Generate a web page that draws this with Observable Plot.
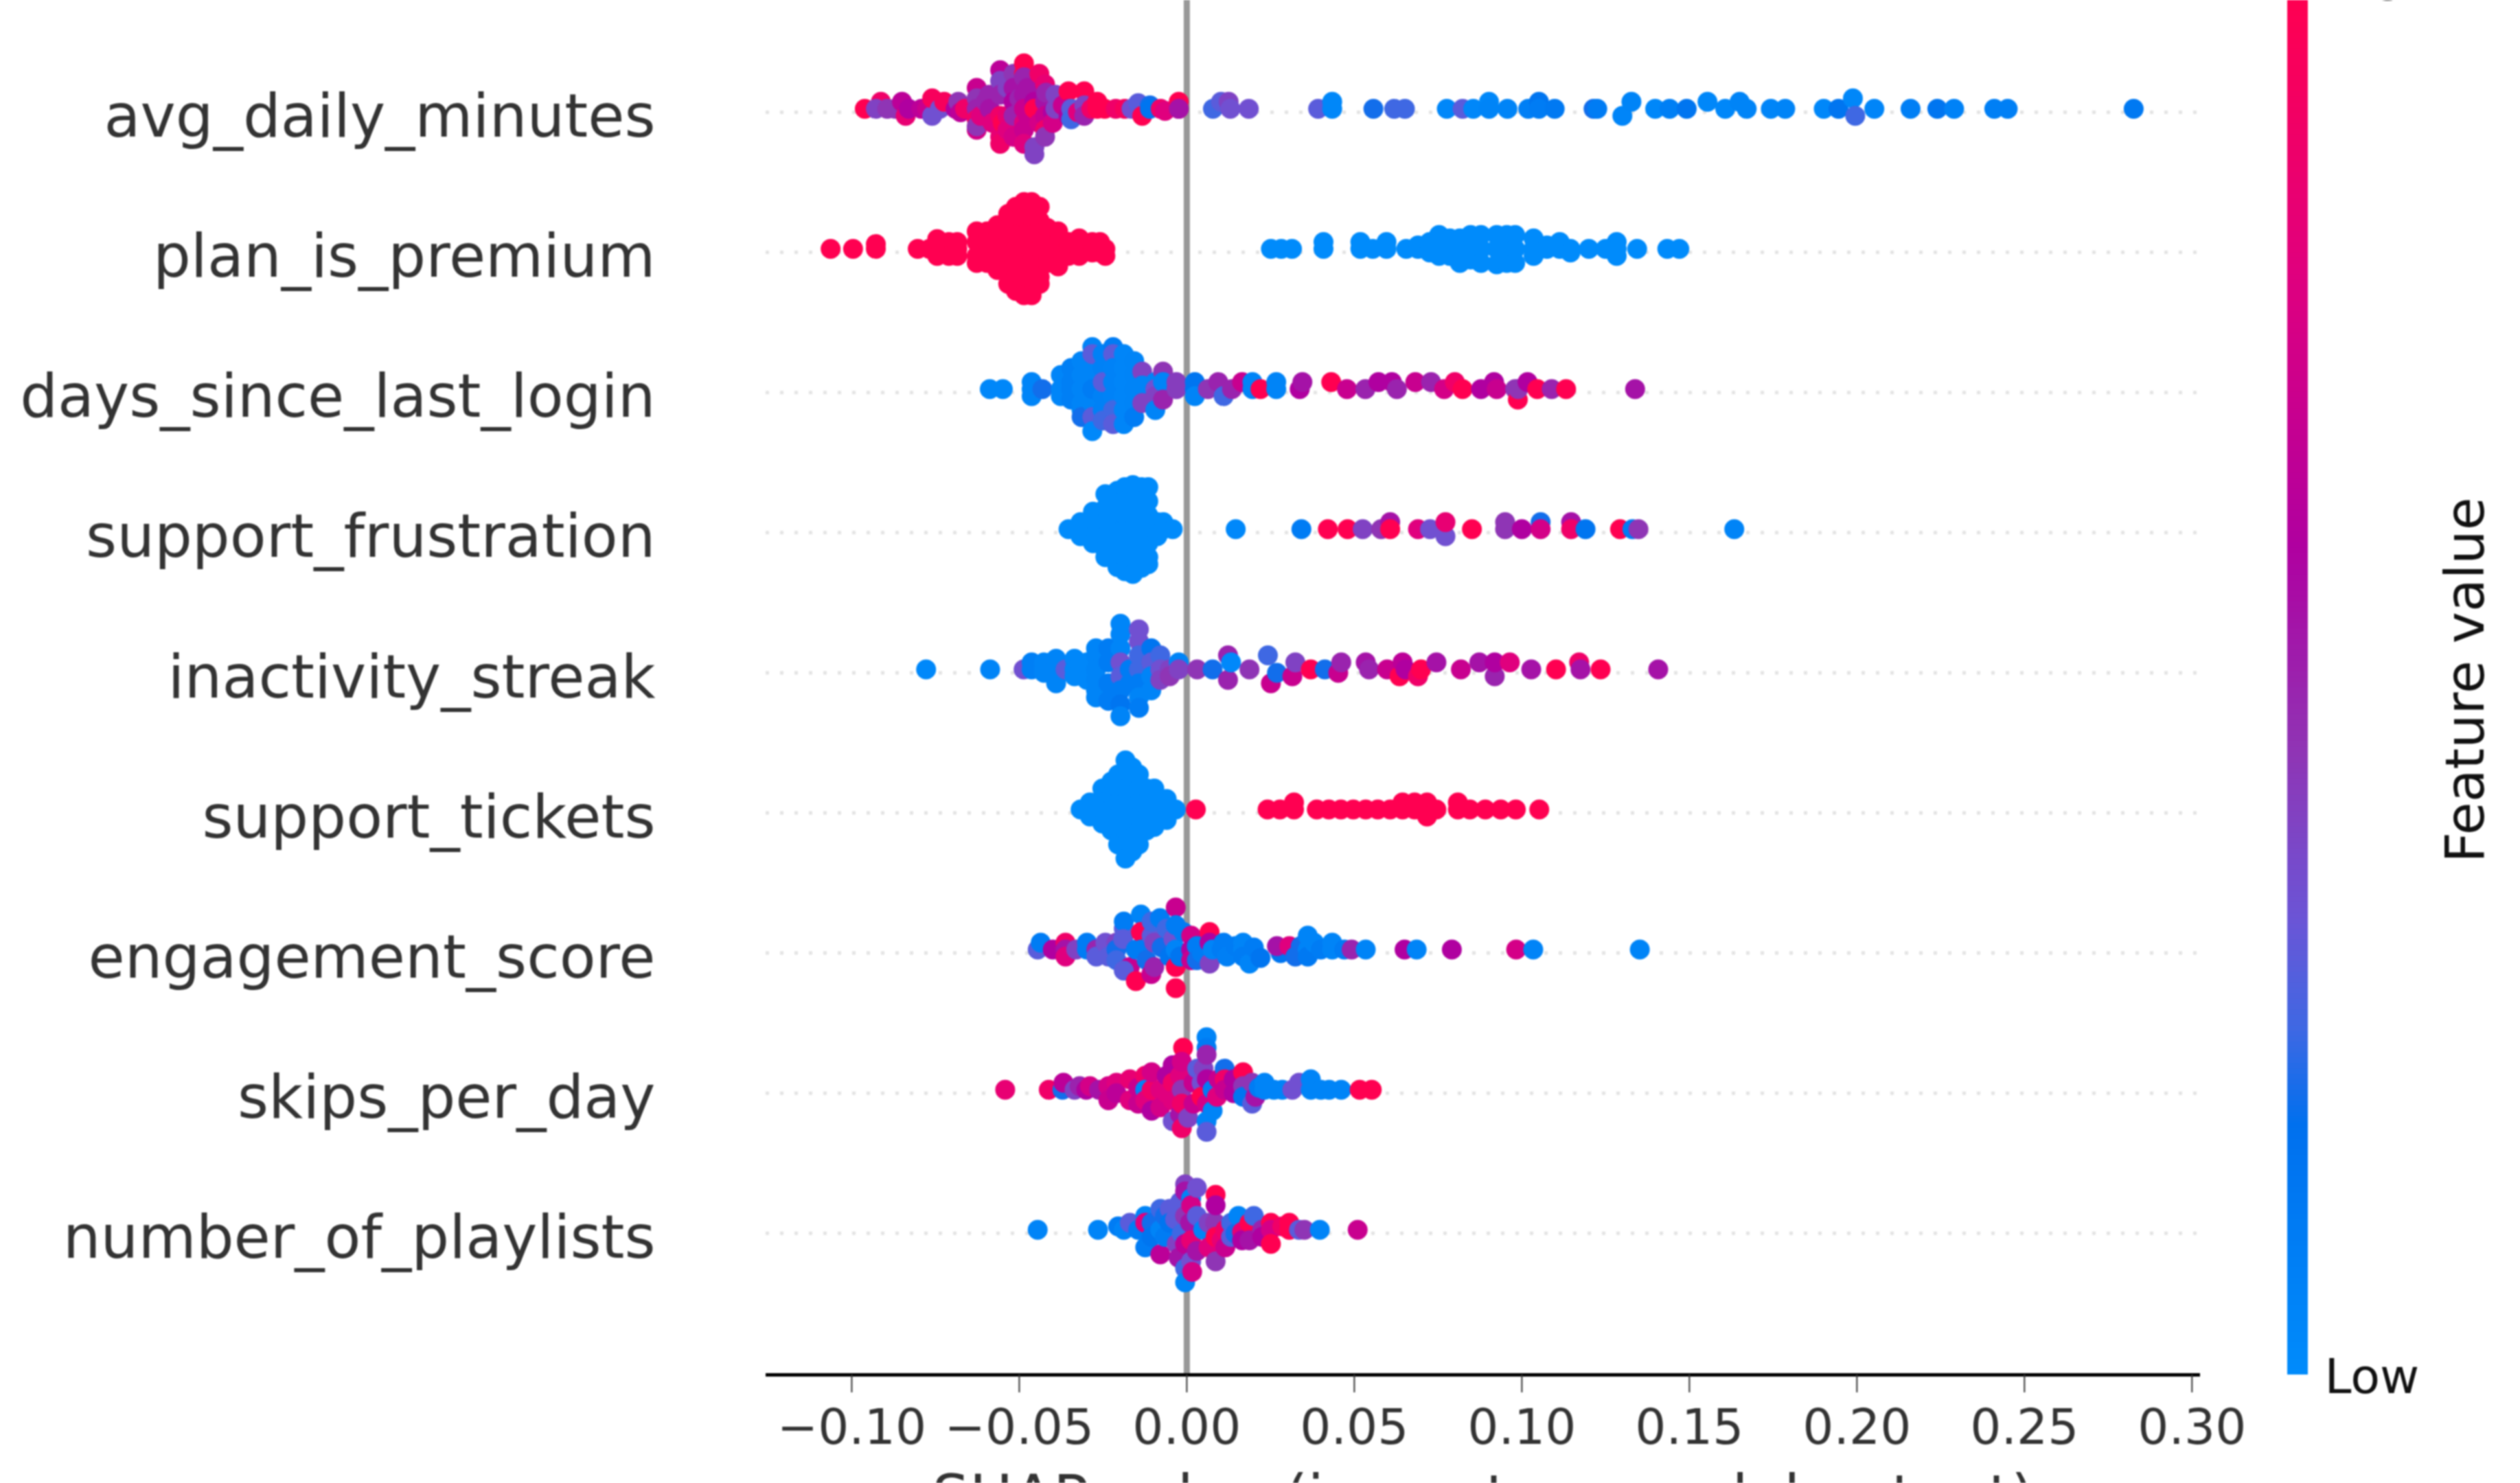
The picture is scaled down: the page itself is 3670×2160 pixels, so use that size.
<!DOCTYPE html>
<html>
<head>
<meta charset="utf-8">
<script src="https://cdn.jsdelivr.net/npm/d3@7"></script>
<script src="https://cdn.jsdelivr.net/npm/@observablehq/plot@0.6"></script>
<style>
html,body{margin:0;padding:0;background:#fff;}
#stage{position:relative;width:3670px;height:2160px;overflow:hidden;background:#fff;}
#stage svg{position:absolute;top:0;filter:blur(0.9px);max-width:none;}
</style>
</head>
<body>
<div id="stage"></div>
<script>
const features = ["avg_daily_minutes","plan_is_premium","days_since_last_login","support_frustration","inactivity_streak","support_tickets","engagement_score","skips_per_day","number_of_playlists"];
const xTicks = [-0.10,-0.05,0,0.05,0.10,0.15,0.20,0.25,0.30];
const colorStops = [0,0.18,0.25,0.33,0.45,0.6,0.8,1];
const colorValues = ["#008bfb","#0070ee","#3f68e3","#6b55d6","#8f35b5","#b000a0","#e0007e","#ff0051"];

// each entry: [SHAP value, stack layer (or layers), feature value 0..1]
const avgDailyMinutes = [
[-.0961,0,1],[-.0913,1,.9],[-.0928,0,.4],[-.0894,0,.45],[-.087,0,.45],[-.085,1,.65],[-.0839,-1,.85],[-.083,0,.6],[-.0792,0,.65],[-.0775,0,.7],[-.076,-1,.35],[-.076,1.5,.95],[-.0737,0,.35],[-.0724,1,.95],[-.069,0,.6],[-.0682,1,.45],[-.0675,-.5,.65],[-.0662,0,.9],
[-.0627,3,.7],[-.0627,1.5,.45],[-.0627,0,.5],[-.0627,-1.5,.9],[-.0627,-3,.75],[-.0627,-2.5,.45],[-.0615,-1,.8],[-.06,1,.5],[-.059,2,.5],[-.0588,0,.55],[-.058,-2,.8],
[-.0557,5.5,.65],[-.0557,4,.4],[-.0557,2,.5],[-.0557,-1,.9],[-.0557,-4,.85],[-.0557,-5,.9],[-.0549,-2,1],[-.0535,3,.4],[-.0535,-1,.85],[-.0535,-3,.8],
[-.0517,5,.45],[-.0517,3,.55],[-.0517,1,.6],[-.0517,-1,.5],[-.0517,-4,.75],[-.05,1.5,.5],[-.05,-.5,.5],
[-.0486,6.5,1],[-.0486,5,1],[-.0486,4.5,.5],[-.0486,2,.55],[-.0486,0,.7],[-.0486,-2,.8],[-.0486,-3,.7],[-.0486,-5,.8],[-.0475,3,.55],[-.0475,-1,.7],
[-.0455,-6.5,.4],[-.0455,-5.5,.4],[-.0455,1,.6],[-.0455,0,1],[-.044,-2,.75],[-.044,5,.9],
[-.0423,3.5,.85],[-.0423,1,.55],[-.0423,-1,.7],[-.0423,-3,.9],[-.0423,-4,.45],[-.042,2.3,.5],[-.04,-.5,.6],[-.04,-2,.75],
[-.0392,2,.4],[-.0392,0,.4],[-.037,.5,.7],[-.0353,2.5,1],[-.0353,0,.7],[-.0353,-1,.6],[-.0345,0,.3],[-.0345,-1.5,.25],[-.0325,-.5,.8],
[-.0306,2.5,1],[-.0306,.5,.4],[-.0306,-1,.5],[-.0285,0,.9],[-.0267,1,1],[-.0267,0,1],[-.0245,0,1],[-.0212,0,.9],[-.0185,0,.95],[-.0165,0,.35],[-.0145,.8,.3],[-.0133,-1,1],[-.011,.5,.2],[-.011,0,.15],[-.0078,0,.9],[-.0065,-.3,.8],[-.0024,0,1],[-.0024,1,1],[-.0024,0,.55],
[.0078,0,.25],[.0102,1,.3],[.0125,1,.4],[.013,0,.35],[.0185,0,.35],[.0392,0,.3],[.0434,0,.03],[.0434,1,.03],[.0557,0,.2],[.0619,0,.25],[.0651,0,.25],
[.0776,0,.03],[.0823,0,.3],[.0855,0,.03],[.0902,1,.03],[.0902,0,.05],[.0957,0,.05],[.1019,0,.08],[.1051,1,.15],[.1051,0,.1],[.1098,0,.12],
[.1214,0,.2],[.1225,0,.1],[.13,-1,.04],[.1327,1,.05],[.1398,0,.03],[.1441,0,.08],[.1492,0,.15],[.1554,1,.03],[.1607,0,.03],[.165,1,.05],[.1671,0,.05],[.1743,0,.04],[.1786,0,.05],[.1901,0,.03],[.1945,0,.15],[.1988,1.5,.03],[.1995,-1,.25],[.2052,0,.04],[.216,0,.08],[.224,0,.15],[.229,0,.06],[.241,0,.08],[.245,0,.08],[.2826,0,.12]
];
const planIsPremium = [
[-.1063,[0],1],[-.0996,[0],1],[-.0928,[0,.7],1],[-.0803,[0],1],[-.0768,[0],1],[-.0745,[1.4,0,-1],1],[-.071,[1,0,-1],1],[-.0685,[1,0,-1],1],
[-.0627,[2.5,1,-1,-2],1],[-.0596,[2.5,1,-1,-2],1],[-.0565,[3.4,1.5,0,-1.5,-3],1],[-.0533,[5,3,1,-1,-3,-5],1],[-.051,[6,4,2,0,-2,-4,-6],1],[-.0486,[6.7,4.5,2,0,-2,-4.5,-6.6],1],[-.0463,[6.7,4.5,2,0,-2,-4.5,-6.6],1],[-.0439,[6,4,2,0,-2,-4,-5],1],[-.0416,[3,1,-1,-2],1],[-.0384,[2.5,1,-1,-2.5],1],[-.0353,[1,0,-1],1],[-.0321,[1.5,0,-1],1],[-.0282,[1,0,-.5],1],[-.0259,[1,0,-.5],1],[-.0243,[0,-1],1],
[.0251,[0],0],[.0282,[0],0],[.0314,[0],0],[.0408,[1,0],0],[.0518,[1,0],0],[.0555,[0],0],[.0596,[1,0],0],[.0655,[0],0],[.069,[.5,0],0],[.0725,[1,0,-.5],0],[.0753,[2,.5,-1],0],[.0785,[1.5,0,-1],0],[.0815,[1.5,0,-2],0],[.0847,[2,0,-1.5],0],[.0878,[2,0,-2],0],[.0925,[2,0,-2.2],0],[.0955,[2,0,-2],0],[.098,[2,0,-2],0],[.1035,[1.5,0,-1],0],[.1075,[.5,0],0],[.1113,[1,0],0],[.1145,[0,-.5],0],[.12,[0],0],[.125,[0],0],[.1283,[1,0,-1],0],[.1344,[0],0],[.1434,[0],0],[.147,[0],0]
];
const daysSinceLastLogin = [
[-.0588,[0],.03],[-.0549,[0],.03],[-.0463,[0,-1,1],.05],[-.0431,[0],.2],
[-.0376,[2,0,-1],.04],[-.0345,[3,1,0,-1.5],.08],[-.0314,[4,2,0,-2,-3],.05],[-.0314,[-4],.2],
[-.0282,[6,3,1,-2],.05],[-.0282,[5,-4],.3],[-.0282,[0],.1],[-.0282,[-6],.02],
[-.0251,[5,3,-1,-3],.07],[-.0251,[1],.3],[-.0251,[-4.5],.25],
[-.022,[6],.1],[-.022,[5],.3],[-.022,[3,1,-1],.06],[-.022,[-3],.25],[-.022,[-5],.3],
[-.0188,[5,3,1,-1,-3,-5],.04],[-.0157,[4,2,0,-2],.05],[-.0157,[-4],.1],
[-.0133,[2.5],.4],[-.0133,[.5],.05],[-.0133,[-2],.4],
[-.0094,[1],.05],[-.0094,[0],.35],[-.0094,[-1],.4],[-.0094,[-3],.05],
[-.0071,[2.5],.45],[-.0071,[1],.05],[-.0071,[-1.5],.5],
[-.0031,[0,1],.42],[.0024,[0,1],.15],[.0024,[-1],.05],[.0063,[0],.45],[.0094,[1],.5],[.011,[-1],.25],[.0135,[0],.5],[.0165,[1],.7],[.0196,[1,0],.05],[.022,[0],1],[.0267,[0,1],.05],
[.0337,[0],.6],[.0345,[1],.55],[.0431,[1],1],[.0478,[0],.7],[.0533,[0],.5],[.0572,[1],.6],[.0612,[1],.6],[.0627,[0],.5],[.0682,[1],.7],[.0729,[1],.5],[.0768,[0],.75],[.08,[1],.9],[.0823,[0],1],[.0878,[0],.6],[.0917,[1],.6],[.0925,[0],.7],[.098,[0],.45],[.0988,[-1.5],1],[.0989,[0],.45],[.1017,[1],.6],[.1046,[0],1],[.1089,[0],.5],[.1132,[0],1],[.1338,[0],.55]
];
const supportFrustration = [
[-.0353,[0],0],[-.0317,[1,0,-1],0],[-.028,[2.5,1,-1,-2],0],[-.0243,[5,3,1,-1,-3,-4],0],[-.0207,[5.5,3.5,1.5,-.5,-2.5,-4.5,-5.4],0],[-.0185,[6,4,2,0,-2,-4,-6],0],[-.0161,[6.3,4,2,0,-2,-4,-6.4],0],[-.0135,[6,4,2,0,-2,-4,-5.5],0],[-.0115,[6,4,2,0,-2,-4,-5],0],[-.0088,[1,-1],0],[-.007,[1,0],0],[-.0042,[0],0],
[.0146,[0],.02],[.0342,[0],.1],[.0421,[0],1],[.048,[0],1],[.0525,[0],.4],[.058,[0],.45],[.0607,[1],.55],[.0607,[0],1],[.069,[0],.8],[.0726,[0],.35],[.0772,[-1],.35],[.0772,[1],.85],[.0851,[0],1],[.095,[0,1],.45],[.1,[0],.6],[.1056,[1],.2],[.1056,[0],.75],[.1147,[1],.55],[.1147,[0],.9],[.119,[0],.15],[.1293,[0],1],[.133,[0],.1],[.1348,[0],.45],[.1634,[0],.05]
];
const inactivityStreak = [
[-.0778,[0],.02],[-.0587,[0],.05],[-.0487,[0],.35],[-.0463,[1,0],.08],[-.0426,[1,0,-.5],.05],[-.039,[1.5,0,-1,-2],.05],[-.0362,[0],.3],[-.0335,[1.5,0,-1],.03],[-.0298,[1,0,-1.5],.03],[-.0271,[3,2,0,-1.5,-3,-4],.05],[-.0234,[3,1,-2,-4.5],.1],
[-.0198,[6.5,5,3],.04],[-.0198,[1],.35],[-.0198,[-1],.3],[-.0198,[-3],.1],[-.0198,[-5],.15],[-.0198,[-6.7],.05],[-.017,[0,-2],.1],
[-.0143,[5.7,4],.35],[-.0143,[2,0],.25],[-.0143,[-2],.1],[-.0143,[-4],.05],[-.0143,[-5.5],.1],
[-.0106,[3],.15],[-.0106,[1],.3],[-.0106,[-1,-3],.05],[-.0079,[2],.25],[-.0079,[0],.35],[-.0079,[-1.5],.4],[-.0051,[0],.4],[-.0051,[-1],.45],[-.0024,[1],.05],[-.0024,[0],.4],
[.0031,[0],.45],[.0077,[0],.2],[.0123,[2],.5],[.0123,[-1.5],.5],[.0132,[1],.02],[.0187,[0],.45],[.0242,[2],.25],[.0251,[-2],.7],[.0269,[-.5],.2],[.0315,[-1],.7],[.0324,[1],.4],[.037,[0],1],[.0412,[0],.2],[.0452,[-.5],.7],[.0461,[1],.5],[.0534,[1],.55],[.0544,[0],.5],[.0598,[0],.7],[.0635,[-1],1],[.0644,[1],.65],[.0653,[0],.6],[.069,[-1],.9],[.0699,[0],1],[.0745,[1],.55],[.0818,[0],.7],[.0873,[1],.55],[.0919,[-1],.5],[.0919,[1],.6],[.0964,[1],.8],[.1028,[0],.55],[.1102,[0],1],[.1171,[1],.9],[.1175,[0],.55],[.1235,[0],1],[.1407,[0],.55]
];
const supportTickets = [
[-.0317,[0],0],[-.0289,[1,0,-1],0],[-.0252,[3,1,-1,-2],0],[-.0225,[4,2,0,-1,-3],0],[-.0205,[5,3,1,-1,-3,-5],0],[-.0183,[7,5,3,1,-1,-3,-5,-7],0],[-.0163,[6,4,2,0,-2,-4,-6],0],[-.0143,[5,3,1,-1,-3,-5],0],[-.012,[3,1,-1,-3],0],[-.0097,[3,1,-1,-2.5],0],[-.006,[1.5,0,-1.5],0],[-.0033,[0],0],
[.0027,[0],1],[.0241,[0],1],[.0278,[0],1],[.032,[1,0],1],[.0388,[0],1],[.0424,[0],1],[.046,[0],1],[.0497,[0],1],[.0534,[0],1],[.057,[0],1],[.0607,[0],1],[.0644,[1,0],1],[.068,[1,0],1],[.0717,[1,0,-1],1],[.0745,[0],1],[.0809,[1,0],1],[.0845,[0],1],[.0891,[0],1],[.0937,[0],1],[.0982,[0],1],[.1052,[0],1]
];
const engagementScore = [
[-.0445,[0],.3],[-.0436,[1],.1],[-.04,[0],.6],[-.0362,[1],.9],[-.0362,[0],.55],[-.0362,[-1],.8],[-.033,[0],.4],[-.0298,[1,0],.1],[-.027,[0],.5],[-.027,[-1],.3],[-.0243,[1],.35],[-.0234,[-1],.3],[-.021,[1],.4],[-.021,[0],.2],[-.021,[-1.5],.25],[-.0188,[3],.3],[-.0188,[4],.1],[-.019,[1.5],.3],[-.017,[-2.5],.7],[-.0188,[-3],.3],[-.0152,[0],.1],[-.0152,[-4.5],1],[-.0137,[5],.05],[-.0137,[2.5],1],[-.0135,[0],.1],[-.012,[-1.5],.2],
[-.0106,[-3.5],.7],[-.0105,[2],.3],[-.0105,[4],.25],[-.0097,[1],.4],[-.0097,[-2.5],.5],[-.008,[4.5],.1],[-.0075,[.3],.2],[-.006,[3],.25],[-.0051,[-1],.15],[-.004,[1.5],.35],[-.0033,[6],.7],[-.0033,[3.5],.1],[-.0033,[0],.05],[-.0033,[-2.5],1],[-.0033,[-5.5],1],[-.002,[-1],.15],[-.001,[2.5],.1],
[.0013,[2],.75],[.0013,[0],.6],[.0013,[-1.5],.7],[.003,[.5],.1],[.003,[-1.5],.2],[.0045,[-.5],.1],[.0068,[2.5],1],[.0068,[1],.6],[.0068,[-2],.4],[.0077,[0],.05],[.0104,[0],.1],[.011,[1],.1],[.012,[-1],.08],[.0145,[.5],.1],[.0168,[1,0],.05],[.0168,[-1],.1],[.0187,[-2],.05],[.02,[.3],.1],[.022,[-1.2],.15],[.028,[-.5],.15],[.0269,[.5],.55],[.0306,[.5],.8],[.0324,[-1],.2],[.034,[.5],.2],[.0361,[2,0],.05],[.0361,[-1],.12],[.038,[1],.05],[.04,[0],.1],[.0434,[1,0],.05],[.047,[0],.1],[.0492,[0],.5],[.0534,[0],.05],[.065,[0],.6],[.0686,[0],.05],[.0791,[0],.6],[.0983,[0],.75],[.1034,[0],.05],[.1352,[0],.05]
];
const skipsPerDay = [
[-.0542,[0],.85],[-.0412,[0],.9],[-.0371,[0],.2],[-.0368,[1],.65],[-.0335,[0],.4],[-.032,[.5],.5],[-.03,[0],.6],[-.0289,[.5],.75],[-.0262,[0],.55],[-.0234,[.5],.75],[-.0234,[-1.5],.7],[-.021,[1],.8],[-.021,[-.5],.65],[-.017,[1.5],.85],[-.017,[-1.5],.8],[-.0145,[.3],.7],[-.0145,[-2],.7],[-.0124,[2],.9],[-.0124,[0],.05],[-.0124,[-1.5],.8],[-.0105,[0],.9],[-.0105,[2.5],.75],[-.0105,[-3],.6],[-.0079,[0],.8],[-.0079,[-2.5],.75],[-.006,[2],.6],[-.006,[-.5],.8],
[-.0042,[3.5],.6],[-.0042,[1],.9],[-.0042,[-1.5],.8],[-.0042,[-4.5],.35],[-.002,[-3.5],.55],[-.002,[2],.8],[-.0011,[6],1],[-.0015,[4],.75],[-.0015,[0],.45],[-.0015,[-2],.9],[-.0015,[-5.5],.9],[.0004,[-4],.4],[.002,[1],.7],[.002,[-2],.7],[.0031,[3],.3],[.0044,[1],.35],[.0044,[-1],1],[.005,[3],.4],[.006,[1.5],.6],[.006,[-2],.75],
[.0059,[7.5],.05],[.0059,[6],.1],[.0059,[5],.5],[.0059,[-4.5],.05],[.0059,[-6],.3],[.0077,[0],.1],[.0077,[-3],.05],[.009,[-1],.8],[.0095,[1.5],.7],[.0113,[3],.2],[.0113,[1.5],.9],[.0113,[0],.7],[.014,[-.5],.6],[.014,[1.5],.6],[.0168,[2.5],1],[.0168,[.5],.45],[.0168,[-1],.15],[.0195,[1],.45],[.0195,[-2],.3],[.0205,[-1],.55],[.0215,[.3],.1],[.0232,[1,0],.05],[.026,[0],.05],[.0285,[0],.05],[.0315,[0],.35],[.0335,[1],.35],[.037,[1.5,0],.05],[.04,[0],.05],[.0425,[0],.05],[.0461,[0],.05],[.0516,[0],1],[.0552,[0],1]
];
const numberOfPlaylists = [
[-.0445,[0],.05],[-.0265,[0],.05],[-.0205,[.5],.1],[-.0188,[0],.05],[-.017,[1],.3],[-.0145,[0],.1],[-.0124,[2],.05],[-.0124,[1],.8],[-.0124,[-2.5],.1],[-.0105,[1],.2],[-.0105,[-1],.15],[-.0079,[3],.25],[-.0079,[0],.05],[-.0079,[-3.5],.65],[-.0065,[2],.2],[-.0065,[-1],.1],[-.0051,[3],.3],[-.0051,[1],.15],[-.0035,[1.5],.3],[-.003,[-2],.4],[-.0024,[-4],.55],[-.002,[4],.3],[-.0015,[-.5],.25],
[-.0005,[6.5],.4],[-.0005,[5.5],.55],[-.0005,[2],.45],[-.0005,[-2],.65],[-.0005,[-5.5],.25],[-.0005,[-7.5],.05],[.001,[1],.55],[.0013,[4.5],.05],[.0013,[3.5],.75],[.0013,[-1.5],.85],[.0013,[-4.5],.35],[.0016,[-6],.75],[.003,[6],.35],[.003,[-3],.55],[.003,[2],.3],[.0049,[0],.05],[.0065,[1],.4],[.0065,[-2.5],.8],
[.0085,[1],.45],[.0086,[5],1],[.0086,[3.5],.6],[.0086,[-1],1],[.0086,[-4.5],.45],[.0104,[-1.5],.85],[.0115,[0],.9],[.0115,[-2.5],.7],[.0132,[1],.25],[.0132,[-1],.3],[.0145,[-.5],.2],[.0154,[2],.05],[.0165,[-.3],.85],[.0165,[-1.5],.6],[.0187,[1],1],[.0187,[-1.5],.55],[.02,[2],.25],[.0225,[0],.5],[.0225,[-1],.6],[.0251,[1],1],[.0251,[0],.75],[.0251,[-2],1],[.0285,[.5],.9],[.0306,[1,0],1],[.0335,[0],.3],[.0351,[0],.45],[.0397,[0],.05],[.051,[0],.7]
];
const rowsData = [avgDailyMinutes,planIsPremium,daysSinceLastLogin,supportFrustration,inactivityStreak,supportTickets,engagementScore,skipsPerDay,numberOfPlaylists];

const layerStep = 0.05; // one stack layer, in row units
const points = rowsData.flatMap((row,i)=>row.flatMap(([shap,layers,feat])=>
  [].concat(layers).map(layer=>({shap,y:i-layer*layerStep,feat}))));

const colorScale = {type:"linear",domain:colorStops,range:colorValues,clamp:true};
const font = "'DejaVu Sans', sans-serif";
const rowIdx = features.map((_,i)=>i);
const yEnd = 9.0103;

const chart = Plot.plot({
  width:3670,height:2160,
  marginLeft:1115,marginRight:466,marginTop:0,marginBottom:158,
  style:{fontFamily:font,background:"transparent"},
  x:{domain:[-0.1256,0.3025]},
  y:{domain:[-0.7986,yEnd],reverse:true},
  color:colorScale,
  marks:[
    Plot.ruleY(rowIdx,{stroke:"#ccc",strokeOpacity:0.55,strokeWidth:5,strokeDasharray:"5 16"}),
    Plot.ruleX([0],{stroke:"#999",strokeWidth:9}),
    Plot.dot(points,{x:"shap",y:"y",fill:"feat",r:14.5,dy:-5,stroke:null}),
    Plot.ruleY([yEnd],{stroke:"#000",strokeWidth:5}),
    Plot.axisX({ticks:xTicks,tickSize:26,tickPadding:24,fontSize:71,tickFormat:d3.format(".2f"),
      stroke:"#333",strokeWidth:2,color:"#333",fill:"#333",label:null}),
    Plot.text(["SHAP value (impact on model output)"],{frameAnchor:"bottom",lineAnchor:"top",dy:146,fontSize:85,fill:"#333"}),
    Plot.axisY({ticks:rowIdx,tickFormat:i=>features[i],tickSize:0,tickPadding:161,fontSize:86.5,fill:"#333",label:null,dy:8})
  ]
});
chart.style.left="0px";
document.getElementById("stage").appendChild(chart);

const ramp = d3.range(0,1,1/256);
const bar = Plot.plot({
  width:339,height:2160,
  marginLeft:0,marginRight:309,marginTop:0,marginBottom:158,
  style:{fontFamily:font,background:"transparent"},
  x:{domain:[0,1],axis:null},
  y:{domain:[0,1],axis:null},
  color:colorScale,
  marks:[
    Plot.rect(ramp,{x1:0,x2:1,y1:d=>d,y2:d=>Math.min(1,d+2/256),fill:d=>d,inset:0}),
    Plot.text(["Low"],{x:1,y:0,dx:24,dy:4,textAnchor:"start",fontSize:70,fill:"#111"}),
    Plot.text(["High"],{x:1,y:1,dx:24,dy:-36,textAnchor:"start",fontSize:70,fill:"#111"}),
    Plot.text(["Feature value"],{x:1,y:0.5,dx:255,dy:-11,rotate:-90,fontSize:78,lineAnchor:"bottom",fill:"#111"})
  ]
});
bar.style.left="3331px";
document.getElementById("stage").appendChild(bar);
</script>
</body>
</html>
